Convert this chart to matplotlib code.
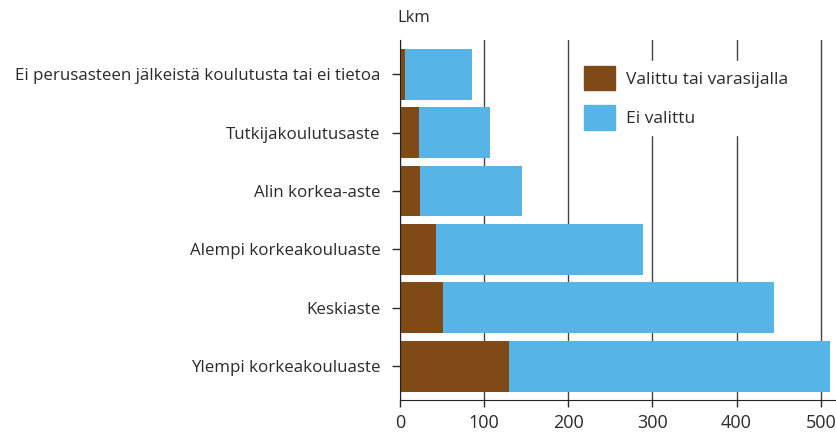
import matplotlib
matplotlib.use('Agg')
import matplotlib.pyplot as plt
from matplotlib.patches import Patch

categories = ['Ylempi korkeakouluaste', 'Keskiaste', 'Alempi korkeakouluaste',
              'Alin korkea-aste', 'Tutkijakoulutusaste',
              'Ei perusasteen jälkeistä koulutusta tai ei tietoa']
valittu = [130, 51, 43, 24, 22, 6]
ei_valittu = [381, 393, 246, 121, 85, 80]
series_names = ['Valittu tai varasijalla', 'Ei valittu']
xticks = [0, 100, 200, 300, 400, 500]

brown = '#7f4a15'
blue = '#56b5e6'

plt.rcParams['font.family'] = ['Open Sans', 'DejaVu Sans']

fig = plt.figure(figsize=(8.36, 4.36), dpi=100)
ax = fig.add_axes([400 / 836, 1 - 400 / 436, 435 / 836, 360 / 436])

y = range(len(categories))
ax.barh(y, valittu, height=0.87, color=brown, zorder=2)
ax.barh(y, ei_valittu, left=valittu, height=0.87, color=blue, zorder=2)

ax.set_xlim(0, 517)
ax.set_ylim(-0.58, 5.59)
ax.set_xticks(xticks)
ax.set_yticks(list(y))
ax.set_yticklabels(categories)
ax.tick_params(axis='both', colors='#2a2a2a', length=5, width=1)
ax.tick_params(axis='x', labelsize=13, pad=5)
ax.tick_params(axis='y', labelsize=12.2, pad=8, length=6)
ax.xaxis.grid(True, color='#444444', linewidth=1, zorder=0)
ax.set_axisbelow(True)
for s in ['top', 'right']:
    ax.spines[s].set_visible(False)
for s in ['left', 'bottom']:
    ax.spines[s].set_color('#222222')

fig.text(397 / 836, 1 - 18 / 436, 'Lkm', fontsize=12, color='#2a2a2a',
         ha='left', va='center')

handles = [Patch(color=brown), Patch(color=blue)]
leg = ax.legend(handles, series_names, loc='upper left',
                bbox_to_anchor=(0.411, 0.942), frameon=True, fontsize=12.5,
                handlelength=1.78, handleheight=1.78, handletextpad=0.63,
                labelspacing=0.86, borderpad=0.3, borderaxespad=0)
leg.get_frame().set_edgecolor('white')
leg.get_frame().set_facecolor('white')
leg.get_frame().set_alpha(1)
leg.get_frame().set_boxstyle('square', pad=0)
for t in leg.get_texts():
    t.set_color('#2a2a2a')
leg.set_zorder(5)

fig.savefig('out.png', dpi=100)
